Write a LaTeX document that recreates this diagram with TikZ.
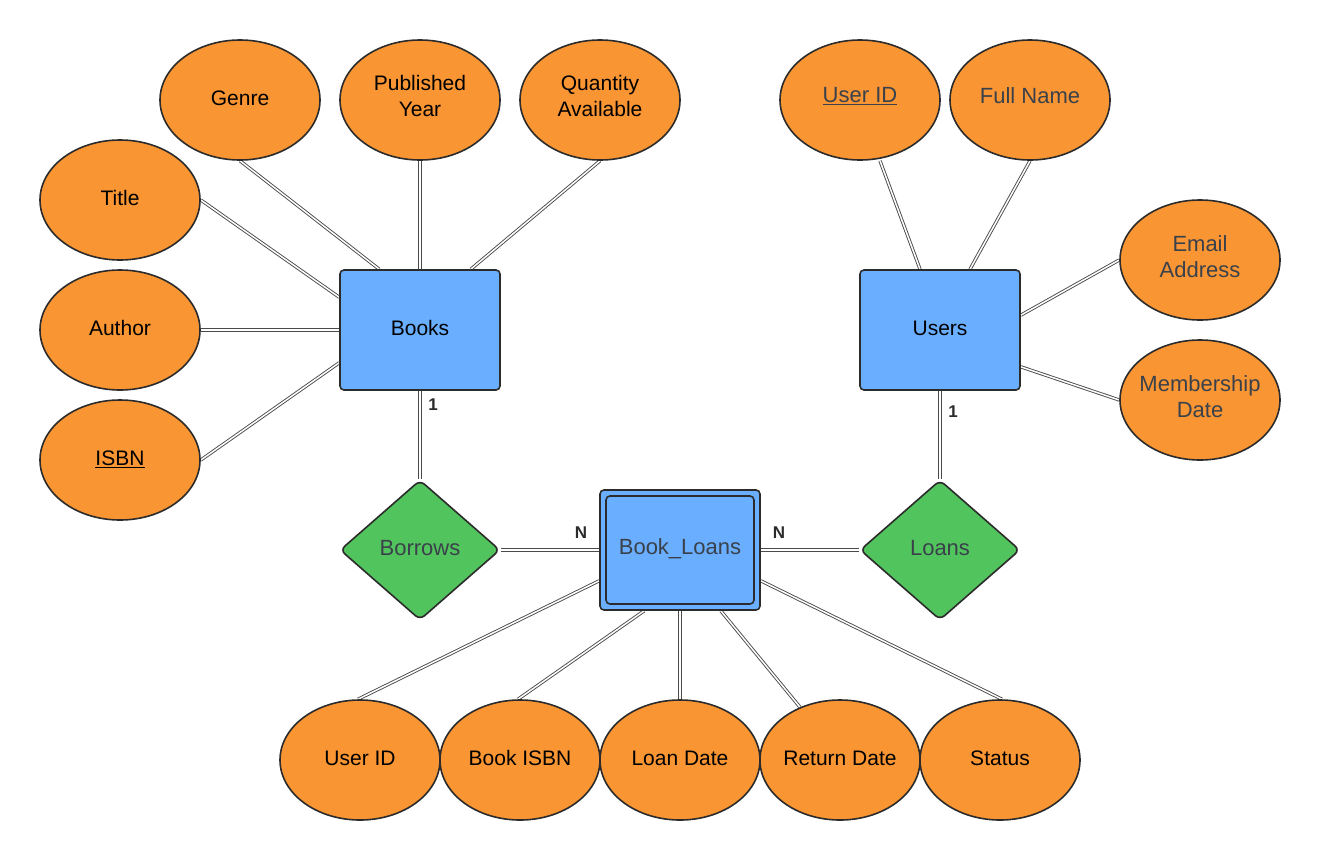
\documentclass[tikz,border=0pt]{standalone}
\usepackage{fontspec}
\setmainfont{Liberation Sans}
\usetikzlibrary{shapes.geometric,backgrounds}
\definecolor{attrfill}{HTML}{F99533}
\definecolor{entfill}{HTML}{6AAEFF}
\definecolor{relfill}{HTML}{52C45D}
\definecolor{strokec}{HTML}{2B2B2B}
\definecolor{graytext}{HTML}{3A414A}
\definecolor{linkc}{HTML}{4A4A4A}
\tikzset{
  attr/.style={ellipse, draw=strokec, line width=1.6pt, fill=attrfill, minimum width=160, minimum height=120, inner sep=0, align=center, text depth=4pt, font=\fontsize{21}{26}\selectfont},
  ent/.style={rectangle, rounded corners=4pt, draw=strokec, line width=1.6pt, fill=entfill, minimum width=160, minimum height=120, inner sep=0, text depth=4pt, font=\fontsize{21}{26}\selectfont},
  rel/.style={diamond, rounded corners=6pt, draw=strokec, line width=1.6pt, fill=relfill, minimum width=160, minimum height=140, inner sep=0, text depth=4pt, font=\fontsize{22}{26}\selectfont, text=graytext},
  gtext/.style={text=graytext, font=\fontsize{22}{26}\selectfont},
  link/.style={draw=linkc, line width=0.9pt, double=white, double distance=1.5pt},
  card/.style={font=\bfseries\fontsize{17}{19}\selectfont, text=strokec, inner sep=0},
}
\begin{document}
\begin{tikzpicture}[x=1pt,y=-1pt]
\useasboundingbox (0,0) rectangle (1320,860);
% Books attributes
\node[attr] (genre) at (240,100) {Genre};
\node[attr, text depth=8pt] (pubyear) at (420,100) {Published\\Year};
\node[attr, text depth=8pt] (qty) at (600,100) {Quantity\\Available};
\node[attr] (title) at (120,200) {Title};
\node[attr] (author) at (120,330) {Author};
\node[attr] (isbn) at (120,460) {\underline{ISBN}};
\node[ent] (books) at (420,330) {Books};
% Users
\node[attr, gtext, text depth=10pt] (uid) at (860,100) {\underline{User ID}};
\node[attr, gtext, text depth=8pt] (fname) at (1030,100) {Full Name};
\node[attr, gtext, text depth=6pt] (email) at (1200,260) {Email\\Address};
\node[attr, gtext, text depth=6pt, inner xsep=-15pt] (mdate) at (1200,400) {Membership\\Date};
\node[ent] (users) at (940,330) {Users};
% relationships
\node[rel] (borrows) at (420,550) {Borrows};
\node[rel] (loans) at (940,550) {Loans};
% weak entity
\node[rectangle, rounded corners=4pt, draw=strokec, line width=1.6pt, fill=entfill, minimum width=160, minimum height=120, inner sep=0] (bl) at (680,550) {};
\node[rectangle, rounded corners=4pt, draw=strokec, line width=1.6pt, minimum width=148, minimum height=108, inner sep=0, text=graytext, font=\fontsize{22}{26}\selectfont] (blin) at (680,550) {\raisebox{7pt}{Book\_Loans}};
% bottom attributes
\node[attr] (luid) at (360,760) {User ID};
\node[attr] (lisbn) at (520,760) {Book ISBN};
\node[attr] (ldate) at (680,760) {Loan Date};
\node[attr] (rdate) at (840,760) {Return Date};
\node[attr] (status) at (1000,760) {Status};
% cardinalities
\node[card] (c1) at (433,405) {1};
\node[card] (c2) at (953,412) {1};
\node[card] (c3) at (581,533) {N};
\node[card] (c4) at (779,533) {N};
\begin{scope}[on background layer]
\path[link] (genre.south) -- ([xshift=40]books.north west);
\path[link] (pubyear.south) -- (books.north);
\path[link] (qty.south) -- ([xshift=-30]books.north east);
\path[link] (title.east) -- ([yshift=-28]books.north west);
\path[link] (author.east) -- (books.west);
\path[link] (isbn.east) -- ([yshift=28]books.south west);
\path[link] ([xshift=20]uid.south) -- ([xshift=-20]users.north);
\path[link] (fname.south) -- ([xshift=30]users.north);
\path[link] (email.west) -- ([yshift=-46]users.north east);
\path[link] (mdate.west) -- ([yshift=24]users.south east);
\path[link] (books.south) -- (borrows.north);
\path[link] (users.south) -- (loans.north);
\path[link] (borrows.east) -- (bl.west);
\path[link] (bl.east) -- (loans.west);
\path[link] ([yshift=30]bl.south west) -- ([xshift=-2]luid.north);
\path[link] ([xshift=45]bl.south west) -- ([xshift=-2]lisbn.north);
\path[link] (bl.south) -- (ldate.north);
\path[link] ([xshift=-40]bl.south east) -- ([xshift=-40,yshift=-8]rdate.north);
\path[link] ([yshift=30]bl.south east) -- ([xshift=2]status.north);
\end{scope}
\end{tikzpicture}
\end{document}
